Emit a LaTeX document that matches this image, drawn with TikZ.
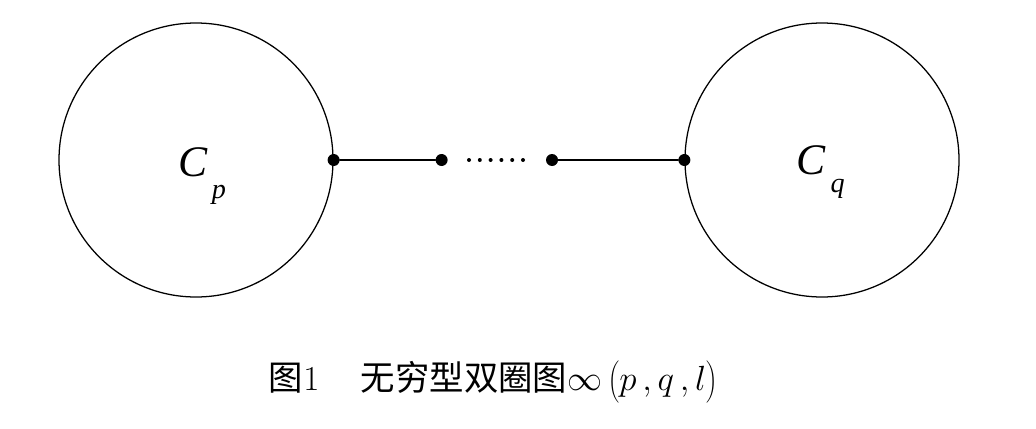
\documentclass[tikz,border=0pt]{standalone}
\usepackage{fontspec}
\newfontfamily\cjk{Noto Sans CJK SC}
\newfontfamily\tnr{Liberation Serif}
\usetikzlibrary{positioning}
\begin{document}
\begin{tikzpicture}[line join=round, line cap=round,
		ring/.style={draw, circle, line width=0.9pt, minimum size=6.85cm, inner sep=0pt},
		bigdot/.style={fill, circle, minimum size=0.3cm, inner sep=0pt},
		smalldot/.style={fill, circle, minimum size=0.1cm, inner sep=0pt},
		edge/.style={line width=1.4pt}]
		\useasboundingbox (0,0) rectangle (25.9,10.7);
		\node[ring] (cp) at (4.9,6.7) {};
		\node[ring] (cq) at (20.55,6.7) {};
		\node at (5.05,6.3) (lp) {\fontsize{31}{31}\selectfont\tnr\itshape C\raisebox{-0.5em}{\fontsize{20}{20}\selectfont\,p}};
		\node at (20.52,6.4) (lq) {\fontsize{31}{31}\selectfont\tnr\itshape C\raisebox{-0.4em}{\fontsize{20}{20}\selectfont\,q}};
		\node[bigdot] (a) at (cp.east) {};
		\node[bigdot] (b) at (11.04,6.7) {};
		\node[bigdot] (c) at (13.8,6.7) {};
		\node[bigdot] (d) at (cq.west) {};
		\draw[edge] (a) -- (b);
		\draw[edge] (c) -- (d);
		\foreach \i in {0,...,5}
			\node[smalldot] (s\i) at (11.725+0.27*\i,6.7) {};
		\node at (12.33,1.15) (cap) {\fontsize{24.5}{24.5}\selectfont\cjk 图$1$\hspace{1.2em}无穷型双圈图$\infty\left(\rule[-0.32em]{0pt}{1.1em}p\,,q\,,l\right)$};
	\end{tikzpicture}
\end{document}
